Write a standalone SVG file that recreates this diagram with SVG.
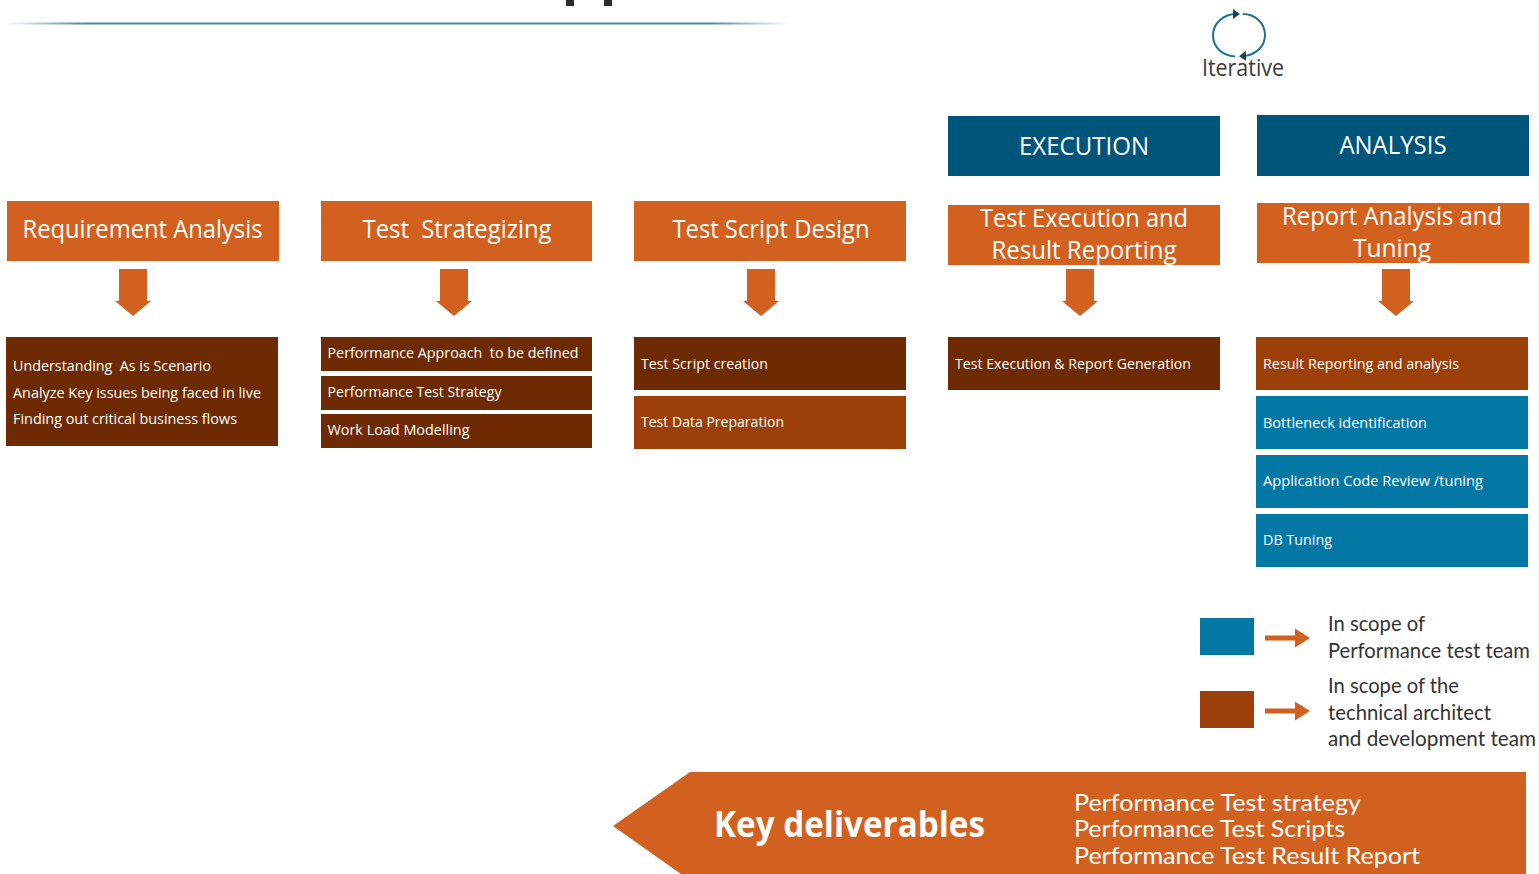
<svg xmlns="http://www.w3.org/2000/svg" width="1539" height="874" viewBox="0 0 1539 874">
<style>
text{font-family:"Open Sans","Noto Sans","Liberation Sans",sans-serif}
.h{font-size:25px;text-anchor:middle;fill:#fff}
.s{font-size:15px;fill:#fff}
.l{font-family:Lato,"Open Sans",sans-serif;font-size:20.800px;fill:#333}
.k{font-family:Lato,"Open Sans",sans-serif;font-size:24px;fill:#fff}
.o{fill:#d26120}
.d{fill:#6e2a02}
.m{fill:#9c3f08}
.b{fill:#0478a5}
.t{fill:#00567a}
</style>
<defs>
<linearGradient id="rule" x1="0" x2="1" y1="0" y2="0">
<stop offset="0" stop-color="#4f8ba0" stop-opacity="0"/>
<stop offset="0.1" stop-color="#4f8ba0"/>
<stop offset="0.9" stop-color="#4f8ba0"/>
<stop offset="1" stop-color="#4f8ba0" stop-opacity="0"/>
</linearGradient>
<marker id="cy" markerWidth="8" markerHeight="10" refX="3" refY="5" orient="auto" markerUnits="userSpaceOnUse"><path d="M0 0L7 5L0 10Z" fill="#14405a"/></marker>
<path id="down" class="o" d="M-14 0H14V32H18L0 47L-18 32H-14Z"/>
<path id="right" class="o" d="M0 -2.500H30V-9.500L45 0L30 9.500V2.500H0Z"/>
</defs>
<g id="title-rule">
<rect x="5" y="22.500" width="785" height="2" fill="url(#rule)"/>
<rect x="566" y="0" width="8" height="6" fill="#2c2c2c"/>
<rect x="604" y="0" width="8" height="6" fill="#2c2c2c"/>
</g>
<g id="iterative">
<path d="M1235 56.500C1222 55.500 1213 47 1213 35.500C1213 23 1224 14 1236 14" fill="none" stroke="#1b6f8e" stroke-width="2" marker-end="url(#cy)"/>
<path d="M1243 14C1255 14 1265 23 1265 35C1265 47 1255 55.500 1243 56" fill="none" stroke="#1b6f8e" stroke-width="2" marker-end="url(#cy)"/>
<text x="1202" y="76" font-size="23" fill="#3a3a3a" textLength="82" lengthAdjust="spacingAndGlyphs">Iterative</text>
</g>
<g id="execution"><rect class="t" x="948" y="116" width="272" height="60"/><text class="h" x="1084" y="154.500" textLength="130" lengthAdjust="spacingAndGlyphs">EXECUTION</text></g>
<g id="analysis"><rect class="t" x="1257" y="115" width="272" height="61"/><text class="h" x="1393" y="154" textLength="107" lengthAdjust="spacingAndGlyphs">ANALYSIS</text></g>
<g id="req-head"><rect class="o" x="7" y="201" width="272" height="60"/><text class="h" x="142.500" y="237.500" textLength="240" lengthAdjust="spacingAndGlyphs">Requirement Analysis</text></g>
<g id="strat-head"><rect class="o" x="321" y="201" width="271" height="60"/><text class="h" x="457" y="238" textLength="189" lengthAdjust="spacingAndGlyphs" xml:space="preserve">Test  Strategizing</text></g>
<g id="script-head"><rect class="o" x="634" y="201" width="272" height="60"/><text class="h" x="771" y="238" textLength="197" lengthAdjust="spacingAndGlyphs">Test Script Design</text></g>
<g id="exec-head"><rect class="o" x="948" y="205" width="272" height="60"/><text class="h" x="1084" y="227" textLength="208" lengthAdjust="spacingAndGlyphs">Test Execution and</text><text class="h" x="1084" y="259" textLength="185" lengthAdjust="spacingAndGlyphs">Result Reporting</text></g>
<g id="report-head"><rect class="o" x="1257" y="203" width="272" height="60"/><text class="h" x="1392" y="225" textLength="220" lengthAdjust="spacingAndGlyphs">Report Analysis and</text><text class="h" x="1392" y="257" textLength="78" lengthAdjust="spacingAndGlyphs">Tuning</text></g>
<g id="connectors">
<use href="#down" x="133" y="269"/>
<use href="#down" x="454" y="269"/>
<use href="#down" x="761" y="269"/>
<use href="#down" x="1080" y="269"/>
<use href="#down" x="1396" y="269"/>
</g>
<g id="req-body"><rect class="d" x="6" y="337" width="272" height="109"/>
<text class="s" x="13" y="371" textLength="198" lengthAdjust="spacingAndGlyphs" xml:space="preserve">Understanding  As is Scenario</text>
<text class="s" x="13" y="398" textLength="248" lengthAdjust="spacingAndGlyphs">Analyze Key issues being faced in live</text>
<text class="s" x="13" y="424" textLength="224" lengthAdjust="spacingAndGlyphs">Finding out critical business flows</text></g>
<g id="strat-1"><rect class="d" x="321" y="337" width="271" height="34"/><text class="s" x="327.500" y="358" textLength="251" lengthAdjust="spacingAndGlyphs" xml:space="preserve">Performance Approach  to be defined</text></g>
<g id="strat-2"><rect class="d" x="321" y="376" width="271" height="34"/><text class="s" x="327.500" y="397" textLength="174" lengthAdjust="spacingAndGlyphs">Performance Test Strategy</text></g>
<g id="strat-3"><rect class="d" x="321" y="414" width="271" height="34"/><text class="s" x="327.500" y="435" textLength="142" lengthAdjust="spacingAndGlyphs">Work Load Modelling</text></g>
<g id="script-1"><rect class="d" x="634" y="337" width="272" height="53"/><text class="s" x="641" y="369" textLength="127" lengthAdjust="spacingAndGlyphs">Test Script creation</text></g>
<g id="script-2"><rect class="m" x="634" y="396" width="272" height="53"/><text class="s" x="641" y="427" textLength="143" lengthAdjust="spacingAndGlyphs">Test Data Preparation</text></g>
<g id="exec-1"><rect class="d" x="948" y="337" width="272" height="53"/><text class="s" x="955" y="369" textLength="236" lengthAdjust="spacingAndGlyphs">Test Execution &amp; Report Generation</text></g>
<g id="rep-1"><rect class="m" x="1256" y="337" width="272" height="53"/><text class="s" x="1263" y="369" textLength="196" lengthAdjust="spacingAndGlyphs">Result Reporting and analysis</text></g>
<g id="rep-2"><rect class="b" x="1256" y="396" width="272" height="53"/><text class="s" x="1263" y="428" textLength="164" lengthAdjust="spacingAndGlyphs">Bottleneck identification</text></g>
<g id="rep-3"><rect class="b" x="1256" y="455" width="272" height="53"/><text class="s" x="1263" y="486" textLength="220" lengthAdjust="spacingAndGlyphs">Application Code Review /tuning</text></g>
<g id="rep-4"><rect class="b" x="1256" y="514" width="272" height="53"/><text class="s" x="1263" y="545" textLength="69" lengthAdjust="spacingAndGlyphs">DB Tuning</text></g>
<g id="legend-blue"><rect class="b" x="1200" y="618" width="54" height="37"/><use href="#right" x="1265" y="638"/>
<text class="l" x="1328" y="630.500" textLength="97" lengthAdjust="spacingAndGlyphs">In scope of</text>
<text class="l" x="1328" y="658" textLength="202" lengthAdjust="spacingAndGlyphs">Performance test team</text></g>
<g id="legend-brown"><rect class="m" x="1200" y="691" width="54" height="37"/><use href="#right" x="1265" y="711"/>
<text class="l" x="1328" y="693" textLength="131" lengthAdjust="spacingAndGlyphs">In scope of the</text>
<text class="l" x="1328" y="719.500" textLength="163" lengthAdjust="spacingAndGlyphs">technical architect</text>
<text class="l" x="1328" y="746" textLength="208" lengthAdjust="spacingAndGlyphs">and development team</text></g>
<g id="deliverables"><path class="o" d="M690 772H1526V874H681L613 826Z"/>
<text x="714" y="837" font-size="36" font-weight="700" fill="#fff" textLength="271" lengthAdjust="spacingAndGlyphs">Key deliverables</text>
<text class="k" x="1074" y="810.500" textLength="287" lengthAdjust="spacingAndGlyphs">Performance Test strategy</text>
<text class="k" x="1074" y="836.500" textLength="271" lengthAdjust="spacingAndGlyphs">Performance Test Scripts</text>
<text class="k" x="1074" y="863.500" textLength="346" lengthAdjust="spacingAndGlyphs">Performance Test Result Report</text></g>
</svg>
